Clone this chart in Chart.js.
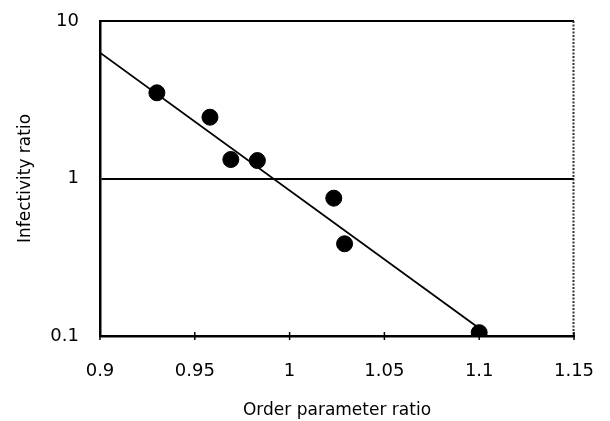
<!DOCTYPE html>
<html>
<head>
<meta charset="utf-8">
<script src="https://cdn.jsdelivr.net/npm/chart.js@4/dist/chart.umd.min.js"></script>
<style>
html,body{margin:0;padding:0;background:#fff;}
#wrap{width:610px;height:421px;position:relative;}
</style>
</head>
<body>
<div id="wrap"><canvas id="c" width="610" height="421"></canvas></div>
<script>
const orderRatio = [0.93, 0.958, 0.969, 0.983, 1.0233, 1.029, 1.1];
const infectivityRatio = [3.5, 2.45, 1.32, 1.3, 0.75, 0.385, 0.105];
const fitX = [0.9, 1.1];
const fitY = [6.3, 0.112];
const xTicks = [0.9, 0.95, 1, 1.05, 1.1, 1.15];
const yTicks = [0.1, 1, 10];

const FONT = "'DejaVu Sans', 'Open Sans', sans-serif";

const framePlugin = {
  id: 'frame',
  afterDatasetsDraw(chart) {
    const {ctx, chartArea: a, scales} = chart;
    ctx.save();
    ctx.strokeStyle = '#000';
    ctx.lineWidth = 2;
    ctx.beginPath(); ctx.moveTo(a.left, a.top); ctx.lineTo(a.right, a.top); ctx.stroke();
    ctx.strokeStyle = '#333';
    ctx.lineWidth = 2;
    ctx.setLineDash([2, 1.5]);
    ctx.beginPath(); ctx.moveTo(Math.round(a.right) - 0.5, a.top); ctx.lineTo(Math.round(a.right) - 0.5, a.bottom); ctx.stroke();
    ctx.setLineDash([]);
    ctx.strokeStyle = '#000';
    ctx.lineWidth = 1.5;
    scales.x.ticks.forEach(t => {
      const px = scales.x.getPixelForValue(t.value);
      ctx.beginPath(); ctx.moveTo(px, a.bottom - 4); ctx.lineTo(px, a.bottom + 4); ctx.stroke();
    });
    ctx.restore();
  }
};

new Chart(document.getElementById('c'), {
  type: 'scatter',
  data: {
    datasets: [
      {
        type: 'line',
        data: fitX.map((x, i) => ({x, y: fitY[i]})),
        borderColor: '#000',
        borderWidth: 1.8,
        pointRadius: 0,
        fill: false,
        order: 2
      },
      {
        data: orderRatio.map((x, i) => ({x, y: infectivityRatio[i]})),
        backgroundColor: '#000',
        borderColor: '#000',
        pointRadius: 8,
        pointHoverRadius: 8,
        order: 1
      }
    ]
  },
  options: {
    responsive: false,
    animation: false,
    events: [],
    layout: {padding: {top: 21, right: 36, left: 0, bottom: 0}},
    plugins: {legend: {display: false}, tooltip: {enabled: false}},
    scales: {
      x: {
        type: 'linear',
        min: 0.9, max: 1.15,
        afterBuildTicks: s => { s.ticks = xTicks.map(v => ({value: v})); },
        afterFit: s => { s.height = 85; s.paddingLeft = 0; s.paddingRight = 0; },
        grid: {display: false, drawTicks: false},
        border: {display: true, color: '#000', width: 2.5},
        ticks: {
          padding: 25,
          color: '#000',
          font: {family: FONT, size: 18},
          callback: v => String(v)
        },
        title: {
          display: true,
          text: 'Order parameter ratio',
          color: '#000',
          font: {family: FONT, size: 17},
          padding: {top: 10, bottom: 0}
        }
      },
      y: {
        type: 'logarithmic',
        min: 0.1, max: 10,
        afterBuildTicks: s => { s.ticks = yTicks.map(v => ({value: v})); },
        afterFit: s => { s.width = 100; s.paddingTop = 0; s.paddingBottom = 0; },
        grid: {
          drawTicks: false,
          color: c => (c.tick && c.tick.value === 1) ? '#000' : 'rgba(0,0,0,0)',
          lineWidth: 2
        },
        border: {display: true, color: '#000', width: 2.5},
        ticks: {
          padding: 21,
          color: '#000',
          font: {family: FONT, size: 18},
          callback: v => String(v)
        },
        title: {
          display: true,
          text: 'Infectivity ratio',
          color: '#000',
          font: {family: FONT, size: 17},
          padding: {top: 15, bottom: 0}
        }
      }
    }
  },
  plugins: [framePlugin]
});
</script>
</body>
</html>
